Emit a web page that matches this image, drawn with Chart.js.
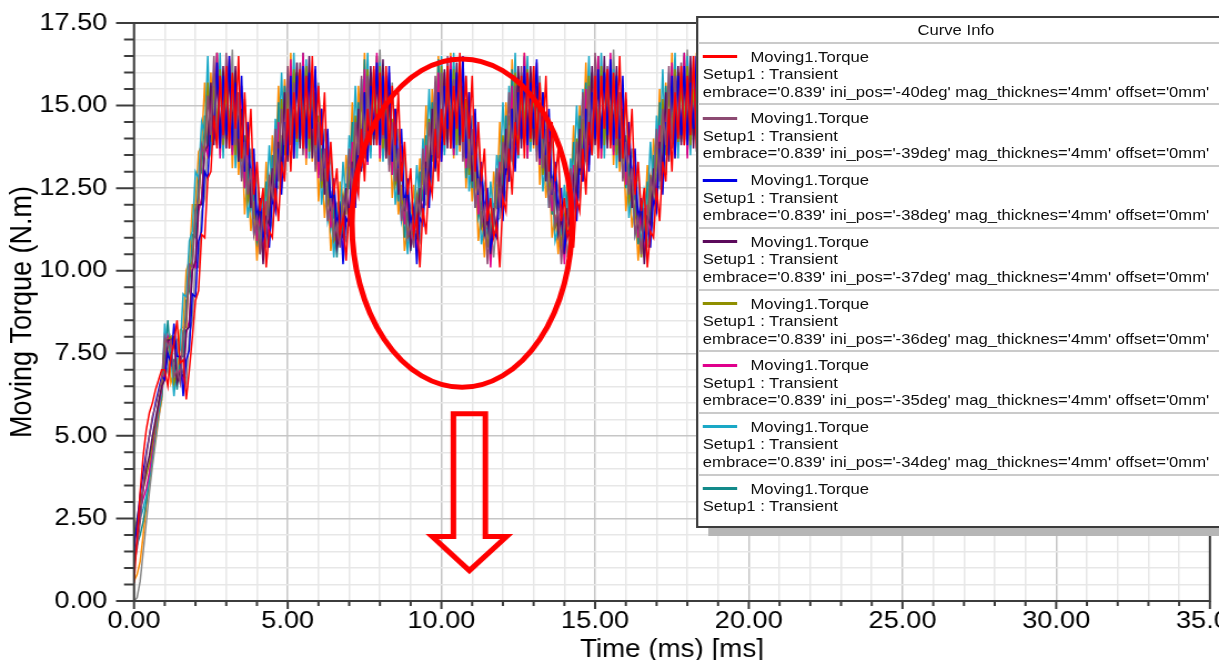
<!DOCTYPE html>
<html>
<head>
<meta charset="utf-8">
<title>Moving Torque</title>
<script src="https://cdn.jsdelivr.net/npm/chart.js@4.4.1/dist/chart.umd.min.js"></script>
<style>
  html, body { margin: 0; padding: 0; background: #fff; overflow: hidden; width: 1219px; height: 660px; }
  #stage { position: absolute; left: 0; top: 0; width: 1098px; height: 680px; overflow: hidden;
           transform-origin: 0 0; transform: scaleX(1.1102); }
  #plot { position: absolute; left: 0; top: 0; }
  #curveInfo { position: absolute; left: 627px; top: 16px; width: 520px; height: 508px; background: #fff;
               border: 2px solid #3c3c3c; box-shadow: 11px 8px 0 #b6b6b6;
               font-family: "Liberation Sans", Arial, sans-serif; font-size: 15px; color: #111; }
  #curveInfo .t { position: absolute; white-space: nowrap; line-height: 18px; height: 18px; }
  #curveInfo .sep { position: absolute; left: 0; right: 0; height: 2px; background: #cacaca; }
  #curveInfo .sw { position: absolute; left: 4px; width: 31px; height: 3px; }
</style>
</head>
<body>
<div id="stage">
  <canvas id="plot" width="1098" height="680"></canvas>
  <div id="curveInfo"></div>
</div>
<script>
// 시간축 (ms)
const time = [
  0,0.1,0.2,0.3,0.4,0.5,0.6,0.7,0.8,0.9,
  1,1.1,1.2,1.3,1.4,1.5,1.6,1.7,1.8,1.9,
  2,2.1,2.2,2.3,2.4,2.5,2.6,2.7,2.8,2.9,
  3,3.1,3.2,3.3,3.4,3.5,3.6,3.7,3.8,3.9,
  4,4.1,4.2,4.3,4.4,4.5,4.6,4.7,4.8,4.9,
  5,5.1,5.2,5.3,5.4,5.5,5.6,5.7,5.8,5.9,
  6,6.1,6.2,6.3,6.4,6.5,6.6,6.7,6.8,6.9,
  7,7.1,7.2,7.3,7.4,7.5,7.6,7.7,7.8,7.9,
  8,8.1,8.2,8.3,8.4,8.5,8.6,8.7,8.8,8.9,
  9,9.1,9.2,9.3,9.4,9.5,9.6,9.7,9.8,9.9,
  10,10.1,10.2,10.3,10.4,10.5,10.6,10.7,10.8,10.9,
  11,11.1,11.2,11.3,11.4,11.5,11.6,11.7,11.8,11.9,
  12,12.1,12.2,12.3,12.4,12.5,12.6,12.7,12.8,12.9,
  13,13.1,13.2,13.3,13.4,13.5,13.6,13.7,13.8,13.9,
  14,14.1,14.2,14.3,14.4,14.5,14.6,14.7,14.8,14.9,
  15,15.1,15.2,15.3,15.4,15.5,15.6,15.7,15.8,15.9,
  16,16.1,16.2,16.3,16.4,16.5,16.6,16.7,16.8,16.9,
  17,17.1,17.2,17.3,17.4,17.5,17.6,17.7,17.8,17.9,
  18,18.1,18.2,18.3,18.4,18.5,18.6
];

const iniPos = ['-40deg','-39deg','-38deg','-37deg','-36deg','-35deg','-34deg','-33deg','-32deg','-31deg'];
const curveColors = ['#ff0000','#8c4a72','#0000e6','#5c0a5c','#8f8f00','#e0008c','#1aa8c6','#138a8a','#ff8c00','#8a8a8a'];

const yTickLabels = [0, 2.5, 5, 7.5, 10, 12.5, 15, 17.5];
const xTickLabels = [0, 5, 10, 15, 20, 25, 30, 35];

// 토크 곡선 (N.m)
const torqueM40 = [
  0.55,1.9,3.3,4.4,5.2,5.7,6.0,6.4,6.7,7.0,
  7.0,6.5,7.4,7.8,8.5,7.2,7.3,6.1,7.0,8.0,9.1,9.4,11.1,11.0,12.8,13.0,14.7,13.7,
  15.9,14.1,16.2,13.7,16.0,14.3,16.5,
  13.4,15.4,13.5,14.9,12.3,13.3,11.8,12.5,10.1,11.2,11.0,12.5,11.5,13.3,12.7,14.9,13.0,15.4,14.0,
  16.1,13.7,15.9,14.0,16.5,13.8,
  15.6,13.8,15.4,12.7,13.9,12.3,13.1,11.1,11.6,10.3,11.9,11.1,12.8,12.3,14.3,12.7,14.9,13.8,16.2,
  13.8,16.0,14.1,16.2,13.5,
  15.6,13.8,15.4,12.7,13.9,12.3,13.1,11.1,11.6,10.1,11.9,11.1,12.8,12.3,14.3,12.7,14.9,13.8,16.2,
  13.7,15.6,14.3,16.6,13.9,15.9,
  14.0,15.9,13.0,14.5,12.7,13.7,11.5,12.2,11.0,11.4,10.1,12.2,11.8,13.7,12.3,14.5,13.5,15.9,13.4,
  16.0,14.0,16.2,13.8,15.7,
  14.0,15.9,13.0,14.5,12.7,13.7,11.5,12.2,11.0,11.4,10.7,12.2,11.8,13.7,12.3,14.5,13.5,15.9,13.4,
  15.9,14.3,16.1,13.7,16.0,14.0,16.5,
  13.4,15.4,13.5,14.9,12.3,13.3,11.8,12.5,10.1,11.2,11.0,12.5,11.5,13.3,12.7,14.9,13.0,15.4,14.0,
  16.2,13.8,15.9,14.1,16.5,13.7,15.8,14.3,16.1
];
const torqueM39 = [
  1.1,1.6,2.4,3.5,4.4,5.0,5.6,5.9,6.3,6.7,
  8.0,7.7,7.9,6.8,7.0,6.6,8.1,8.5,10.2,10.1,11.8,12.2,13.8,13.5,15.3,
  14.1,16.5,13.8,15.9,14.0,16.6,13.7,
  15.6,13.8,15.4,12.7,13.9,12.3,13.1,11.1,11.6,10.5,11.9,11.1,12.8,12.3,14.3,12.7,14.9,13.8,16.2,
  13.8,15.7,14.3,16.3,13.5,15.9,
  14.0,15.9,13.0,14.5,12.7,13.7,11.5,12.2,11.0,11.4,10.7,12.2,11.8,13.7,12.3,14.5,13.5,15.9,13.4,
  15.9,14.1,16.1,13.8,15.7,
  14.0,15.9,13.0,14.5,12.7,13.7,11.5,12.2,11.0,11.4,10.7,12.2,11.8,13.7,12.3,14.5,13.5,15.9,13.4,
  16.0,14.0,16.5,13.7,15.8,14.3,
  16.2,13.3,14.9,13.1,14.3,11.9,12.8,11.4,11.9,10.2,11.6,11.4,13.1,11.9,13.9,13.1,15.4,13.3,15.6,
  14.1,16.2,13.8,16.0,14.2,
  16.2,13.3,14.9,13.1,14.3,11.9,12.8,11.4,11.9,10.2,11.6,11.4,13.1,11.9,13.9,13.1,15.4,13.3,15.6,
  14.0,16.6,13.7,15.9,14.3,16.2,13.8,
  15.6,13.8,15.4,12.7,13.9,12.3,13.1,11.1,11.6,10.5,11.9,11.1,12.8,12.3,14.3,12.7,14.9,13.8,16.2,
  13.7,15.9,14.1,16.3,13.8,15.7,14.2,16.5,13.6,16.0,14.1,16.2
];
const torqueM38 = [
  1.5,2.4,3.2,3.9,4.5,5.0,5.5,6.0,6.4,6.8,
  6.7,7.5,7.2,8.4,7.4,7.4,6.2,7.3,7.6,9.3,9.2,10.9,11.2,13.0,12.8,14.5,14.1,
  16.3,13.7,15.9,14.1,16.5,13.8,15.7,
  14.0,15.9,13.0,14.5,12.7,13.7,11.5,12.2,11.0,11.4,10.7,12.2,11.8,13.7,12.3,14.5,13.5,15.9,13.4,
  15.9,14.0,16.2,13.7,16.0,14.3,
  16.2,13.3,14.9,13.1,14.3,11.9,12.8,11.4,11.9,10.2,11.6,11.4,13.1,11.9,13.9,13.1,15.4,13.3,15.6,
  14.1,16.3,13.8,15.9,14.0,
  16.2,13.3,14.9,13.1,14.3,11.9,12.8,11.4,11.9,10.2,11.6,11.4,13.1,11.9,13.9,13.1,15.4,13.3,15.6,
  14.3,16.1,13.7,16.0,14.1,16.5,
  13.4,15.4,13.5,14.9,12.3,13.3,11.8,12.5,10.7,11.2,11.0,12.5,11.5,13.3,12.7,14.9,13.0,15.4,14.0,
  16.2,13.8,15.7,14.3,16.4,
  13.4,15.4,13.5,14.9,12.3,13.3,11.8,12.5,10.7,11.2,11.0,12.5,11.5,13.3,12.7,14.9,13.0,15.4,14.0,
  16.1,13.7,16.0,14.1,16.4,13.8,15.9,
  14.0,15.9,13.0,14.5,12.7,13.7,11.5,12.2,11.0,11.4,10.7,12.2,11.8,13.7,12.3,14.5,13.5,15.9,13.4,
  15.9,14.1,16.2,13.8,15.7,14.3,16.5,13.7,16.0,14.0
];
const torqueM37 = [
  1.2,1.8,2.6,3.4,4.0,4.4,5.0,5.5,6.0,6.5,
  6.7,7.9,7.9,8.0,6.6,6.9,6.8,8.2,8.3,10.0,10.3,12.0,12.0,13.6,13.8,15.7,
  13.8,15.9,14.0,16.2,13.7,16.0,14.3,
  16.2,13.3,14.9,13.1,14.3,11.9,12.8,11.4,11.9,10.2,11.6,11.4,13.1,11.9,13.9,13.1,15.4,13.3,15.6,
  14.1,16.3,13.7,15.9,14.0,16.5,
  13.4,15.4,13.5,14.9,12.3,13.3,11.8,12.5,10.7,11.2,11.0,12.5,11.5,13.3,12.7,14.9,13.0,15.4,14.0,
  16.2,13.8,15.9,14.1,16.4,
  13.4,15.4,13.5,14.9,12.3,13.3,11.8,12.5,10.7,11.2,11.0,12.5,11.5,13.3,12.7,14.9,13.0,15.4,14.0,
  16.1,13.7,16.0,14.3,16.3,13.8,
  15.6,13.8,15.4,12.7,13.9,12.3,13.1,11.1,11.6,10.5,11.9,11.1,12.8,12.3,14.3,12.7,14.9,13.8,16.2,
  13.7,15.9,14.1,16.2,13.8,
  15.6,13.8,15.4,12.7,13.9,12.3,13.1,11.1,11.6,10.5,11.9,11.1,12.8,12.3,14.3,12.7,14.9,13.8,16.2,
  13.8,15.7,14.0,16.5,13.7,15.9,14.2,
  16.2,13.3,14.9,13.1,14.3,11.9,12.8,11.4,11.9,10.2,11.6,11.4,13.1,11.9,13.9,13.1,15.4,13.3,15.6,
  14.1,16.2,13.8,15.9,14.0,16.5,13.7,15.8,14.3,16.1,13.8
];
const torqueM36 = [
  2.0,2.5,3.0,3.4,3.8,4.2,4.8,5.4,6.0,6.5,
  7.9,7.9,8.0,6.6,6.9,6.8,8.2,8.3,10.0,10.3,12.0,12.0,13.6,13.8,15.7,
  13.9,15.6,14.4,16.1,13.8,15.5,14.3,
  15.9,13.5,14.7,13.3,14.1,12.1,12.6,11.6,11.7,10.5,11.5,11.6,12.9,12.1,13.7,13.3,15.2,13.5,15.4,
  14.4,16.1,13.9,15.6,14.3,16.2,
  13.6,15.2,13.7,14.7,12.5,13.1,12.0,12.3,10.9,11.1,11.2,12.3,11.7,13.1,12.9,14.7,13.2,15.2,14.2,
  16.1,13.8,15.6,14.4,16.2,
  13.7,15.1,13.6,14.6,12.6,13.0,12.0,12.2,11.0,11.1,11.2,12.3,11.8,13.1,12.9,14.6,13.3,15.1,14.3,
  16.2,13.9,15.5,14.4,16.1,13.8,
  15.4,14.0,15.2,12.9,13.7,12.5,12.9,11.3,11.5,10.7,11.7,11.3,12.6,12.5,14.1,12.9,14.7,14.0,16.0,
  13.8,15.6,14.4,16.1,13.9,
  15.3,14.0,15.1,12.9,13.6,12.5,12.8,11.3,11.5,10.8,11.7,11.3,12.6,12.4,14.0,12.9,14.6,14.0,15.9,
  13.9,15.6,14.3,16.2,13.8,15.5,14.4,
  15.9,13.5,14.7,13.3,14.1,12.1,12.6,11.6,11.7,10.4,11.5,11.6,12.9,12.1,13.7,13.3,15.2,13.5,15.4,
  14.3,16.1,13.9,15.6,14.4,16.2,13.8,15.5,14.3,16.0,13.9,15.6
];
const torqueM35 = [
  1.8,2.2,2.8,3.1,3.4,3.9,4.6,5.3,5.9,6.4,
  6.9,8.0,7.7,7.9,6.8,7.0,6.6,8.1,8.5,10.2,10.1,11.8,12.2,13.8,13.5,15.3,
  14.0,16.6,13.4,16.0,14.0,16.5,13.5,
  15.8,13.6,15.6,12.5,14.1,12.1,13.3,10.9,11.8,10.4,12.1,10.9,13.0,12.1,14.5,12.5,15.1,13.6,16.4,
  13.4,16.0,14.0,16.6,13.4,16.0,
  13.8,16.1,12.8,14.7,12.5,13.9,11.3,12.4,10.8,11.6,10.5,12.4,11.6,13.9,12.1,14.7,13.3,16.1,13.2,
  16.0,14.0,16.6,13.4,16.0,
  13.9,16.0,12.9,14.6,12.6,13.8,11.4,12.3,10.9,11.5,10.6,12.3,11.7,13.8,12.2,14.6,13.4,16.0,13.3,
  16.0,14.0,16.5,13.5,15.9,14.1,
  16.4,13.1,15.1,12.9,14.5,11.7,13.0,11.2,12.1,10.1,11.8,11.2,13.3,11.7,14.1,12.9,15.6,13.1,15.8,
  14.0,16.6,13.4,16.0,14.0,
  16.3,13.2,15.0,13.0,14.4,11.8,12.9,11.3,12.0,10.2,11.7,11.3,13.2,11.8,14.0,13.0,15.5,13.2,15.7,
  14.0,16.5,13.4,16.0,14.1,16.6,13.5,
  15.7,13.7,15.5,12.6,14.0,12.2,13.2,11.0,11.7,10.4,12.0,11.0,12.9,12.2,14.4,12.6,15.0,13.7,16.3,
  13.5,16.0,14.0,16.6,13.4,16.0,14.1,16.5,13.5,15.9,14.0
];
const torqueM34 = [
  1.9,2.3,2.5,2.8,3.2,3.8,4.5,5.2,5.8,6.3,
  8.4,7.4,7.4,6.2,7.3,7.6,9.3,9.2,10.9,11.2,13.0,12.8,14.5,14.1,
  16.5,13.5,16.0,14.0,16.6,13.4,15.9,
  14.2,16.0,13.1,14.6,12.8,13.8,11.6,12.3,11.1,11.5,10.8,12.3,11.9,13.8,12.4,14.6,13.6,16.0,13.5,
  16.0,14.0,16.6,13.4,16.0,14.0,
  16.4,13.4,15.1,13.2,14.5,12.0,13.0,11.5,12.0,10.4,11.8,11.5,13.3,12.0,14.1,13.2,15.6,13.4,15.8,
  14.0,16.6,13.4,16.0,14.0,
  16.3,13.3,15.0,13.2,14.4,12.0,12.9,11.5,12.0,10.5,11.7,11.5,13.2,12.0,14.0,13.2,15.5,13.4,15.7,
  14.0,16.5,13.5,16.0,14.1,16.6,
  13.5,15.6,13.6,15.1,12.4,13.5,11.9,12.7,10.8,11.4,11.1,12.7,11.6,13.5,12.8,15.1,13.1,15.6,14.1,
  16.6,13.4,16.0,14.0,16.5,
  13.6,15.5,13.6,15.0,12.4,13.4,11.9,12.6,10.9,11.3,11.1,12.6,11.6,13.4,12.8,15.0,13.1,15.5,14.1,
  16.5,13.5,16.0,14.0,16.6,13.4,15.9,
  14.1,16.1,13.1,14.7,12.8,13.9,11.6,12.4,11.1,11.6,10.8,12.4,11.9,13.9,12.4,14.7,13.6,16.1,13.5,
  16.0,14.0,16.6,13.4,16.0,14.1,16.5,13.5,15.9,14.0,16.6,13.4,16.0
];
const torqueM33 = [
  1.4,1.7,2.0,2.4,3.0,3.7,4.4,5.1,5.7,6.2,
  7.4,8.5,7.2,7.3,6.4,7.4,7.4,9.1,9.4,11.1,11.0,12.8,13.0,14.7,13.7,
  15.6,14.0,16.6,13.8,15.5,14.4,16.2,
  13.6,15.2,13.3,15.1,12.5,13.1,11.9,12.3,10.9,11.4,10.8,12.7,11.3,13.5,12.5,15.1,13.2,15.6,13.8,
  16.2,13.8,16.0,13.9,16.6,13.5,
  15.4,14.0,15.6,12.9,13.7,12.5,12.9,11.3,11.8,10.4,12.1,11.0,12.6,12.5,14.5,12.5,15.1,13.6,16.4,
  13.4,16.0,14.0,16.5,13.8,
  15.8,13.6,15.2,12.9,14.1,12.1,13.3,11.0,11.8,10.6,11.7,11.3,13.0,12.1,14.1,12.9,15.1,13.6,16.4,
  13.8,15.6,14.4,16.2,13.5,16.0,
  13.8,16.1,12.8,14.7,12.5,13.9,11.6,12.0,11.1,11.3,10.9,12.0,11.9,13.5,12.5,14.7,13.3,16.1,13.6,
  15.6,14.4,16.5,13.4,16.0,
  14.2,15.7,13.2,14.3,12.9,13.5,11.7,12.4,11.2,11.6,10.9,12.4,11.6,13.9,12.1,14.7,13.3,15.7,13.6,
  16.0,14.0,16.5,13.8,15.6,14.4,16.2,
  13.6,15.2,13.7,14.7,12.5,13.1,12.0,12.3,10.8,11.4,10.9,12.7,11.3,13.5,12.5,15.1,13.2,15.6,13.8,
  16.2,13.8,16.0,13.9,16.6,13.5,15.6,14.4,16.5,13.4,16.0,14.0
];
const torqueM32 = [
  0.6,0.8,1.2,2.0,2.9,3.7,4.4,5.0,5.6,6.1,
  7.9,8.0,6.6,6.9,6.8,8.2,8.3,10.0,10.3,12.0,12.0,13.6,13.8,15.7,
  13.4,16.0,14.0,16.6,13.5,16.0,14.0,
  16.4,13.1,15.1,12.9,14.5,11.7,13.0,11.2,12.1,10.3,11.8,11.2,13.3,11.7,14.1,12.9,15.6,13.1,15.8,
  14.0,16.6,13.4,16.0,14.0,16.5,
  13.2,15.6,13.3,15.1,12.1,13.5,11.6,12.7,10.6,11.4,10.8,12.7,11.3,13.5,12.5,15.1,12.8,15.6,13.8,
  16.6,13.4,16.0,14.0,16.5,
  13.3,15.5,13.4,15.0,12.2,13.4,11.7,12.6,10.6,11.3,10.9,12.6,11.4,13.4,12.6,15.0,12.9,15.5,13.9,
  16.5,13.4,16.0,14.0,16.6,13.4,
  15.8,13.6,15.6,12.5,14.1,12.1,13.3,10.9,11.8,10.4,12.1,10.9,13.0,12.1,14.5,12.5,15.1,13.6,16.4,
  13.4,16.0,14.0,16.6,13.4,
  15.7,13.7,15.5,12.6,14.0,12.2,13.2,11.0,11.7,10.5,12.0,11.0,12.9,12.2,14.4,12.6,15.0,13.7,16.3,
  13.5,16.0,14.0,16.5,13.4,16.0,14.0,
  16.3,13.2,15.0,13.0,14.4,11.8,12.9,11.3,12.0,10.3,11.7,11.3,13.2,11.8,14.0,13.0,15.5,13.2,15.7,
  14.0,16.6,13.4,16.0,14.0,16.5,13.5,16.0,14.1,16.6,13.4,15.9,14.0
];
const torqueM31 = [
  0.0,0.1,0.6,1.5,2.4,3.3,4.1,4.8,5.5,6.1,
  7.2,6.9,8.0,7.7,7.9,6.8,7.0,6.6,8.1,8.5,10.2,10.1,11.8,12.2,13.8,13.5,15.3,
  14.4,16.2,13.8,15.6,14.4,16.7,13.8,
  15.4,14.0,15.2,12.9,13.7,12.5,12.9,11.3,11.5,10.7,11.7,11.3,12.6,12.5,14.1,12.9,14.7,14.0,16.0,
  13.8,15.6,14.4,16.2,13.8,15.6,
  14.2,15.7,13.2,14.3,12.9,13.5,11.7,12.0,11.2,11.2,10.9,12.0,12.0,13.5,12.5,14.3,13.7,15.7,13.6,
  15.6,14.4,16.7,13.8,15.6,
  14.2,15.7,13.2,14.3,12.9,13.5,11.7,12.0,11.2,11.2,10.9,12.0,12.0,13.5,12.5,14.3,13.7,15.7,13.6,
  15.6,14.4,16.2,13.8,15.6,14.4,
  15.9,13.5,14.7,13.3,14.1,12.1,12.6,11.6,11.7,10.4,11.5,11.6,12.9,12.1,13.7,13.3,15.2,13.5,15.4,
  14.4,16.2,13.8,15.6,14.4,
  15.9,13.5,14.7,13.3,14.1,12.1,12.6,11.6,11.7,10.4,11.5,11.6,12.9,12.1,13.7,13.3,15.2,13.5,15.4,
  14.4,16.2,13.8,15.6,14.4,16.7,13.8,
  15.4,14.0,15.2,12.9,13.7,12.5,12.9,11.3,11.5,10.7,11.7,11.3,12.6,12.5,14.1,12.9,14.7,14.0,16.0,
  13.8,15.6,14.4,16.7,13.8,15.6,14.4,16.2,13.8,15.6
];

const torque = [torqueM40, torqueM39, torqueM38, torqueM37, torqueM36, torqueM35, torqueM34, torqueM33, torqueM32, torqueM31];

// 빨간 표시 (타원, 화살표) - 데이터 좌표
const ringT = 10.67, ringV = 11.44, ringRT = 3.58, ringRV = 4.97;
const arrowShaft = [10.39, 11.43], arrowHead = [9.70, 12.12];
const arrowTop = 5.67, arrowBase = 1.95, arrowTip = 0.92;

const onList = (list, v) => list.some(m => Math.abs(m - v) < 1e-6);

// Curve Info 박스
const box = document.getElementById('curveInfo');
let html = '<div class="t" style="left:0;width:464px;text-align:center;top:3px">Curve Info</div>';
for (let k = 0; k < 8; k++) {
  const b = 24.7 + 61.7 * k;
  html += `<div class="sep" style="top:${b - 1}px"></div>`;
  html += `<div class="sw" style="top:${b + 12.5}px;background:${curveColors[k]}"></div>`;
  html += `<div class="t" style="left:47px;top:${b + 5}px">Moving1.Torque</div>`;
  html += `<div class="t" style="left:4px;top:${b + 22.5}px">Setup1 : Transient</div>`;
  if (k < 7) {
    html += `<div class="t" style="left:4px;top:${b + 40}px">embrace='0.839' ini_pos='${iniPos[k]}' mag_thicknes='4mm' offset='0mm'</div>`;
  }
}
box.innerHTML = html;

const axisMarks = {
  id: 'axisMarks',
  afterDatasetsDraw(chart) {
    const { ctx, chartArea: a, scales: { x, y } } = chart;
    ctx.save();
    ctx.strokeStyle = '#3c3c3c';
    ctx.lineWidth = 2;
    ctx.strokeRect(a.left, a.top, a.right - a.left, a.bottom - a.top);
    ctx.beginPath();
    y.ticks.forEach(t => {
      const py = y.getPixelForValue(t.value);
      const len = onList(yTickLabels, t.value) ? 16.2 : 9;
      ctx.moveTo(a.left - len, py);
      ctx.lineTo(a.left, py);
    });
    x.ticks.forEach(t => {
      const px = x.getPixelForValue(t.value);
      const len = onList(xTickLabels, t.value) ? 8 : 5;
      ctx.moveTo(px, a.bottom);
      ctx.lineTo(px, a.bottom + len);
    });
    ctx.stroke();
    ctx.restore();
  }
};

const markup = {
  id: 'markup',
  afterDraw(chart) {
    const { ctx, scales: { x, y } } = chart;
    const cx = x.getPixelForValue(ringT), cy = y.getPixelForValue(ringV);
    const rx = x.getPixelForValue(ringT + ringRT) - cx;
    const ry = cy - y.getPixelForValue(ringV + ringRV);
    ctx.save();
    ctx.strokeStyle = '#ff0000';
    ctx.lineWidth = 5;
    ctx.beginPath();
    ctx.ellipse(cx, cy, rx, ry, 0, 0, Math.PI * 2);
    ctx.stroke();

    const mid = (arrowShaft[0] + arrowShaft[1]) / 2;
    const pts = [
      [arrowShaft[0], arrowTop], [arrowShaft[1], arrowTop], [arrowShaft[1], arrowBase],
      [arrowHead[1], arrowBase], [mid, arrowTip], [arrowHead[0], arrowBase], [arrowShaft[0], arrowBase]
    ];
    ctx.beginPath();
    pts.forEach(([t, v], i) => {
      const px = x.getPixelForValue(t), py = y.getPixelForValue(v);
      if (i) ctx.lineTo(px, py); else ctx.moveTo(px, py);
    });
    ctx.closePath();
    ctx.lineJoin = 'miter';
    ctx.stroke();
    ctx.restore();
  }
};

Chart.defaults.font.family = '"Liberation Sans", Arial, sans-serif';
Chart.defaults.color = '#000';

const gridColor = list => c => (c.tick && onList(list, c.tick.value)) ? '#c6c6c6' : '#e7e7e7';

new Chart(document.getElementById('plot'), {
  type: 'line',
  data: {
    labels: time,
    datasets: torque.map((vals, k) => ({
      label: 'Moving1.Torque ' + iniPos[k],
      data: vals,
      borderColor: curveColors[k],
      backgroundColor: curveColors[k],
      borderWidth: 1.5,
      pointRadius: 0,
      tension: 0,
      fill: false
    }))
  },
  options: {
    responsive: false,
    animation: false,
    devicePixelRatio: 1,
    layout: { padding: { left: 0, top: 23, right: 8.2, bottom: 0 } },
    plugins: { legend: { display: false }, tooltip: { enabled: false } },
    scales: {
      x: {
        type: 'linear', min: 0, max: 35,
        ticks: {
          stepSize: 1, autoSkip: false, maxRotation: 0, minRotation: 0, padding: 6,
          font: { size: 24.5 },
          callback: v => onList(xTickLabels, v) ? v.toFixed(2) : ''
        },
        grid: { drawTicks: false, lineWidth: 1.5, color: gridColor(xTickLabels) },
        border: { display: false },
        title: { display: true, text: 'Time (ms) [ms]', font: { size: 25 }, padding: { top: 0, bottom: 15 } },
        afterFit: s => { s.height = 79; s.paddingLeft = 0; s.paddingRight = 0; }
      },
      y: {
        type: 'linear', min: 0, max: 17.5,
        ticks: {
          stepSize: 0.5, autoSkip: false, padding: 24,
          font: { size: 24.5 },
          callback: v => onList(yTickLabels, v) ? v.toFixed(2) : ''
        },
        grid: { drawTicks: false, lineWidth: 1.5, color: gridColor(yTickLabels) },
        border: { display: false },
        title: { display: true, text: 'Moving Torque (N.m)', font: { size: 27 }, padding: { top: 4, bottom: 0 } },
        afterFit: s => { s.width = 120.7; s.paddingTop = 0; s.paddingBottom = 0; }
      }
    }
  },
  plugins: [axisMarks, markup]
});
</script>
</body>
</html>
